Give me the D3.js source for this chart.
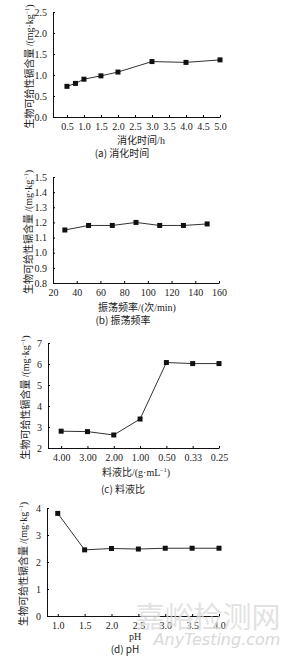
<!DOCTYPE html>
<html>
<head>
<meta charset="utf-8">
<script src="https://cdn.jsdelivr.net/npm/d3@7"></script>
<style>
  body { margin: 0; background: #fff; }
  svg { display: block; }
  text { font-family: "Liberation Serif", "Noto Sans CJK SC", serif; fill: #222; }
</style>
</head>
<body>
<div id="chart"></div>
<script>
// data
const timeX = [0.5, 0.75, 1.0, 1.5, 2.0, 3.0, 4.0, 5.0];
const timeY = [0.73, 0.80, 0.90, 0.98, 1.07, 1.32, 1.30, 1.36];
const timeTicks = [0.5, 1.0, 1.5, 2.0, 2.5, 3.0, 3.5, 4.0, 4.5, 5.0];

const shakeX = [30, 50, 70, 90, 110, 130, 150];
const shakeY = [1.15, 1.18, 1.18, 1.20, 1.18, 1.18, 1.19];
const shakeTicks = [20, 40, 60, 80, 100, 120, 140, 160];

const ratioLabels = ["4.00", "3.00", "2.00", "1.00", "0.50", "0.33", "0.25"];
const ratioY = [2.80, 2.78, 2.62, 3.38, 6.07, 6.02, 6.02];

const phX = [1.0, 1.5, 2.0, 2.5, 3.0, 3.5, 4.0];
const phY = [3.80, 2.45, 2.50, 2.48, 2.51, 2.51, 2.51];
const phTicks = [1.0, 1.5, 2.0, 2.5, 3.0, 3.5, 4.0];

const svg = d3.select("#chart").append("svg")
    .attr("width", 285)
    .attr("height", 664);

// draw one panel
function panel(p) {
    const g = svg.append("g");
    const x = d3.scaleLinear().domain(p.xDomain).range(p.xRange);
    const y = d3.scaleLinear().domain(p.yDomain).range([p.bottom, p.top]);

    // x axis, ticks pointing inward
    g.append("g")
        .attr("transform", `translate(0,${p.bottom})`)
        .call(d3.axisBottom(x).tickValues(p.xTicks).tickSize(-2).tickPadding(6)
            .tickFormat(p.xFormat).tickSizeOuter(0))
        .call(a => a.select(".domain").attr("stroke", "#111"))
        .call(a => a.selectAll("text").attr("font-size", "10px").attr("fill", "#222")
            .style("font-family", "Liberation Serif"));

    g.append("g")
        .attr("transform", `translate(${p.xRange[0]},0)`)
        .call(d3.axisLeft(y).tickValues(p.yTicks).tickSize(-2).tickPadding(6)
            .tickFormat(p.yFormat).tickSizeOuter(0))
        .call(a => a.select(".domain").attr("stroke", "#111"))
        .call(a => a.selectAll("text").attr("font-size", "10px").attr("fill", "#222")
            .style("font-family", "Liberation Serif"));

    const pts = p.xs.map((d, i) => [d, p.ys[i]]);
    g.append("path")
        .datum(pts)
        .attr("fill", "none")
        .attr("stroke", "#333")
        .attr("stroke-width", 1)
        .attr("d", d3.line().x(d => x(d[0])).y(d => y(d[1])));

    g.selectAll("rect.pt")
        .data(pts)
        .join("rect")
        .attr("class", "pt")
        .attr("x", d => x(d[0]) - 2.5)
        .attr("y", d => y(d[1]) - 2.5)
        .attr("width", 5)
        .attr("height", 5)
        .attr("fill", "#111");

    // y label
    const yl = g.append("text")
        .attr("transform", `translate(${p.ylx},${(p.top + p.bottom) / 2 + 2}) rotate(-90)`)
        .attr("text-anchor", "middle")
        .attr("dy", "0.35em")
        .attr("font-size", "10px");
    yl.append("tspan").style("font-family", "Noto Sans CJK SC").text("生物可给性镉含量 ");
    yl.append("tspan").text("/(mg·kg");
    yl.append("tspan").attr("font-size", "6px").attr("dy", "-4").text("−1");
    yl.append("tspan").attr("dy", "4").text(")");

    // x title
    const xt = g.append("text")
        .attr("x", p.titleX)
        .attr("y", p.titleY)
        .attr("text-anchor", "middle")
        .attr("font-size", "10px");
    p.title(xt);

    g.append("text")
        .attr("x", p.capX)
        .attr("y", p.capY)
        .attr("text-anchor", "middle")
        .attr("font-size", "10px")
        .style("font-family", "Noto Sans CJK SC")
        .text(p.caption);
}

const f1 = d3.format(".1f");

panel({
    xs: timeX, ys: timeY, xDomain: [0.09, 5.0], xRange: [53, 220],
    yDomain: [0, 2.5], top: 12, bottom: 117,
    xTicks: timeTicks, yTicks: [0, 0.5, 1.0, 1.5, 2.0, 2.5], xFormat: f1, yFormat: f1,
    ylx: 29, titleX: 141, titleY: 144, capX: 122, capY: 157,
    title: t => { t.append("tspan").style("font-family", "Noto Sans CJK SC").text("消化时间"); t.append("tspan").text("/h"); },
    caption: "(a) 消化时间"
});

panel({
    xs: shakeX, ys: shakeY, xDomain: [20, 160], xRange: [53, 219],
    yDomain: [0.8, 1.5], top: 177, bottom: 283,
    xTicks: shakeTicks, yTicks: [0.8, 0.9, 1.0, 1.1, 1.2, 1.3, 1.4, 1.5], xFormat: d3.format("d"), yFormat: f1,
    ylx: 28, titleX: 137, titleY: 311, capX: 123, capY: 324,
    title: t => {
        t.append("tspan").style("font-family", "Noto Sans CJK SC").text("振荡频率");
        t.append("tspan").text("/(");
        t.append("tspan").style("font-family", "Noto Sans CJK SC").text("次");
        t.append("tspan").text("/min)");
    },
    caption: "(b) 振荡频率"
});

panel({
    xs: ratioLabels.map((d, i) => i), ys: ratioY, xDomain: [-0.5, 6], xRange: [48, 219],
    yDomain: [2, 7], top: 343, bottom: 448,
    xTicks: ratioLabels.map((d, i) => i), yTicks: [2, 3, 4, 5, 6, 7], xFormat: i => ratioLabels[i], yFormat: d3.format("d"),
    ylx: 25, titleX: 136, titleY: 476, capX: 123, capY: 493,
    title: t => {
        t.append("tspan").style("font-family", "Noto Sans CJK SC").text("料液比");
        t.append("tspan").text("/(g·mL");
        t.append("tspan").attr("font-size", "6px").attr("dy", "-4").text("−1");
        t.append("tspan").attr("dy", "4").text(")");
    },
    caption: "(c) 料液比"
});

panel({
    xs: phX, ys: phY, xDomain: [0.8, 4.0], xRange: [47, 219],
    yDomain: [0, 4], top: 508, bottom: 616,
    xTicks: phTicks, yTicks: [0, 1, 2, 3, 4], xFormat: f1, yFormat: d3.format("d"),
    ylx: 23, titleX: 135, titleY: 640, capX: 125, capY: 653,
    title: t => { t.append("tspan").text("pH"); },
    caption: "(d) pH"
});

// watermark
svg.append("text")
    .attr("x", 208).attr("y", 628)
    .attr("text-anchor", "middle")
    .attr("font-size", "29px")
    .style("font-family", "Noto Sans CJK SC")
    .style("fill", "#dcdcdc")
    .style("opacity", 0.8)
    .text("嘉峪检测网");
svg.append("text")
    .attr("x", 217).attr("y", 645)
    .attr("text-anchor", "middle")
    .attr("font-size", "16px")
    .attr("font-style", "italic")
    .style("font-family", "DejaVu Sans")
    .style("fill", "#d0d0d0")
    .style("opacity", 0.8)
    .text("AnyTesting.com");
</script>
</body>
</html>
